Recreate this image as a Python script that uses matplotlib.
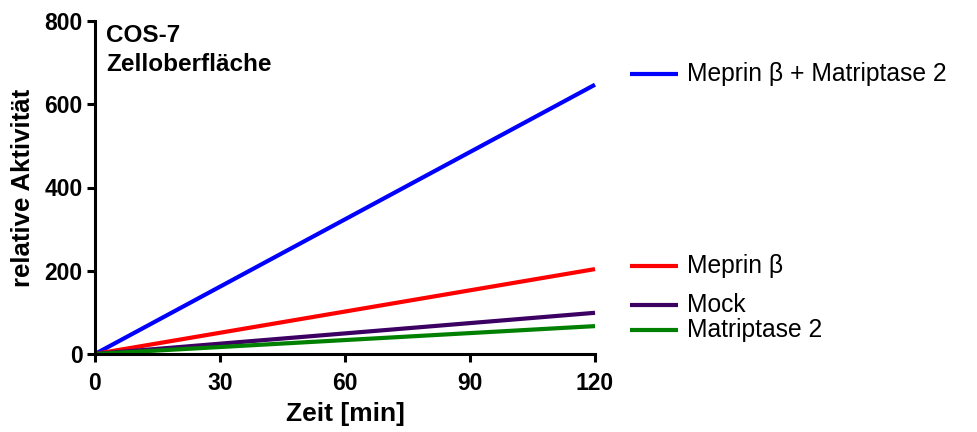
import matplotlib
matplotlib.use("Agg")
import matplotlib.pyplot as plt

plt.rcParams['font.family'] = ['Liberation Sans', 'DejaVu Sans']

zeit = [0, 120]
labels = ["Meprin β + Matriptase 2", "Meprin β", "Mock", "Matriptase 2"]
werte = [
    [0, 647],
    [0, 204],
    [0, 99],
    [0, 67],
]
farben = ["#0000ff", "#ff0000", "#3c0063", "#008000"]
# y position of the legend entries (data units)
label_y = [672, 212, 117, 57]

fig = plt.figure(figsize=(9.78, 4.32), dpi=100)
ax = fig.add_axes([95 / 978, 1 - 354 / 432, 500 / 978, 333 / 432])

for i in range(len(labels)):
    ax.plot(zeit, werte[i], color=farben[i], lw=3, solid_capstyle="butt", clip_on=False)
    ax.plot([128.5, 140], [label_y[i], label_y[i]], color=farben[i], lw=3,
            solid_capstyle="butt", clip_on=False)
    ax.text(142, label_y[i], labels[i], fontsize=17.7, va="center", ha="left")

ax.set_xlim(0, 120)
ax.set_ylim(0, 800)
ax.set_xticks([0, 30, 60, 90, 120])
ax.set_yticks([0, 200, 400, 600, 800])
for s in ["top", "right"]:
    ax.spines[s].set_visible(False)
for s in ["left", "bottom"]:
    ax.spines[s].set_linewidth(2.2)
ax.tick_params(width=2.2, length=6, labelsize=16.5)
ax.tick_params(axis="x", pad=7)
ax.tick_params(axis="y", pad=3)
for t in ax.get_xticklabels() + ax.get_yticklabels():
    t.set_fontweight("bold")

ax.set_xlabel("Zeit [min]", fontsize=19, fontweight="bold", labelpad=5)
ax.set_ylabel("relative Aktivität", fontsize=18.5, fontweight="bold", labelpad=7)

ax.text(2.7, 792, "COS-7\nZelloberfläche", fontsize=17.5, fontweight="bold",
        va="top", ha="left", linespacing=1.3)

fig.savefig("out.png", dpi=100)
